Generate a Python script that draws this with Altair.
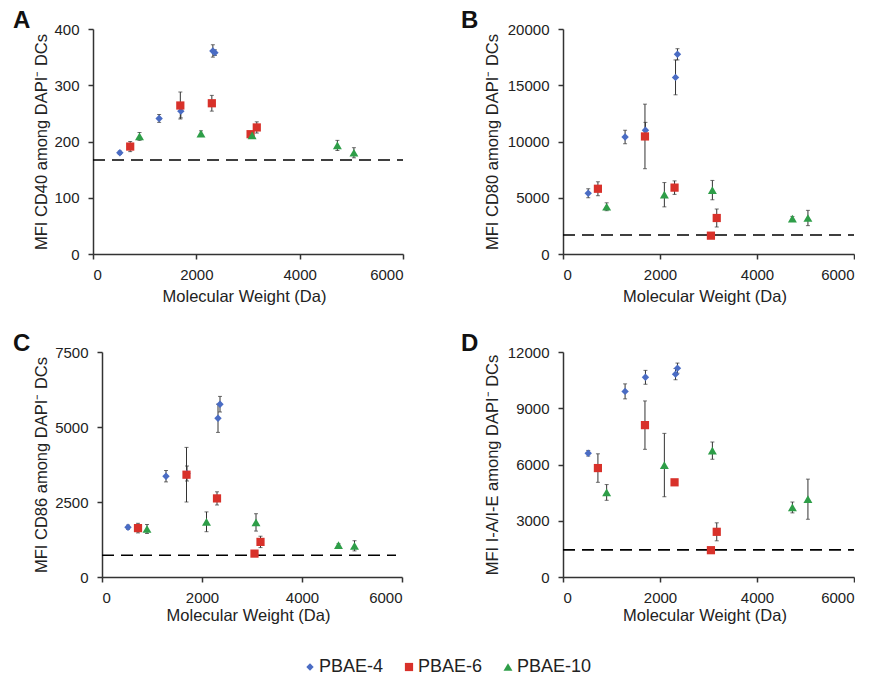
import altair as alt
import pandas as pd

series = ["PBAE-4", "PBAE-6", "PBAE-10"]
colors = ["#4A6CC4", "#D8312A", "#2E9E48"]
shapes = ["diamond", "square", "triangle-up"]

# molecular weights (Da)
mw4 = [520, 1280, 1700, 2320, 2360]
mw6 = [720, 1690, 2300, 3050, 3170]
mw10 = [900, 2090, 3080, 4730, 5050]

# Panel A: CD40
cd40_4 = [180, 241, 254, 361, 358]
cd40_4e = [3, 7, 12, 11, 5]
cd40_6 = [191, 264, 268, 213, 225]
cd40_6e = [9, 24, 14, 4, 10]
cd40_10 = [209, 214, 211, 193, 180]
cd40_10e = [7, 5, 5, 9, 9]
cd40_base = 167

# Panel B: CD80
cd80_4 = [5400, 10400, 11000, 15700, 17750]
cd80_4e = [400, 600, 700, 1550, 500]
cd80_6 = [5800, 10450, 5900, 1630, 3200]
cd80_6e = [620, 2870, 600, 100, 800]
cd80_10 = [4200, 5270, 5680, 3140, 3200]
cd80_10e = [350, 1080, 860, 200, 680]
cd80_base = 1690

# Panel C: CD86
cd86_4 = [1660, 3360, 3450, 5290, 5760]
cd86_4e = [70, 190, 250, 470, 260]
cd86_6 = [1630, 3410, 2620, 780, 1170]
cd86_6e = [160, 910, 220, 50, 190]
cd86_10 = [1600, 1840, 1820, 1060, 1040]
cd86_10e = [150, 330, 290, 50, 170]
cd86_base = 724

# Panel D: I-A/I-E
iaie_4 = [6600, 9900, 10650, 10820, 11140]
iaie_4e = [150, 400, 370, 300, 270]
iaie_6 = [5810, 8100, 5050, 1430, 2410]
iaie_6e = [760, 1290, 60, 50, 480]
iaie_10 = [4510, 5970, 6740, 3710, 4150]
iaie_10e = [420, 1690, 460, 290, 1070]
iaie_base = 1444

FONT = "Liberation Sans"


def make_df(v4, e4, v6, e6, v10, e10):
    rows = []
    for name, xs, vs, es in [("PBAE-4", mw4, v4, e4), ("PBAE-6", mw6, v6, e6), ("PBAE-10", mw10, v10, e10)]:
        for x, v, e in zip(xs, vs, es):
            rows.append({"mw": x, "mfi": v, "lo": v - e, "hi": v + e, "series": name})
    return pd.DataFrame(rows)


def panel(df, base, base_end, ymax, ystep, ytitle, letter, width, xshift, ytx, letter_dx, xty):
    xsc = alt.Scale(domain=[0, 6000], nice=False, zero=True, range=[xshift, width])
    ysc = alt.Scale(domain=[0, ymax], nice=False)
    xax = alt.Axis(values=[0, 2000, 4000, 6000], title="Molecular Weight (Da)", format="d",
                   titleY=xty, titleX=xshift + (width - xshift) / 2 - 4, titleBaseline="alphabetic",
                   titleAlign="center")
    yax = alt.Axis(values=list(range(0, ymax + 1, ystep)), title=ytitle, format="d",
                   offset=-xshift, titleX=ytx, titleY=112.5, titleAngle=270,
                   titleBaseline="alphabetic", titleAlign="center")
    b = alt.Chart(df)
    rule = alt.Chart(pd.DataFrame({"base": [base], "x0": [0], "x1": [base_end]})).mark_rule(
        strokeDash=[12, 7], color="black", strokeWidth=1.6
    ).encode(x=alt.X("x0:Q", scale=xsc, axis=xax), x2="x1:Q",
             y=alt.Y("base:Q", scale=ysc, axis=yax))
    err = b.mark_errorbar(ticks={"size": 4}, color="#333333", thickness=1).encode(
        x=alt.X("mw:Q", scale=xsc, axis=xax), y=alt.Y("lo:Q", scale=ysc, axis=yax), y2="hi:Q"
    )
    pts = b.mark_point(filled=True, opacity=1).encode(
        x=alt.X("mw:Q", scale=xsc, axis=xax),
        y=alt.Y("mfi:Q", scale=ysc, axis=yax),
        color=alt.Color("series:N", scale=alt.Scale(domain=series, range=colors),
                        legend=alt.Legend(title=None, orient="none", direction="horizontal",
                                          legendX=208, legendY=629, symbolSize=64,
                                          labelFontSize=18, labelOffset=0, columnPadding=16,
                                          labelFont=FONT, labelColor="#222222")),
        shape=alt.Shape("series:N", scale=alt.Scale(domain=series, range=shapes)),
        size=alt.Size("series:N", scale=alt.Scale(domain=series, range=[55, 80, 55]), legend=None),
    )
    return alt.layer(rule, err, pts).properties(
        width=width, height=225,
        title=alt.TitleParams(letter, anchor="start", frame="group", dx=letter_dx, dy=29.5, offset=0,
                              baseline="alphabetic", fontSize=24, fontWeight="bold", font=FONT,
                              color="#111111"),
    )


A = panel(make_df(cd40_4, cd40_4e, cd40_6, cd40_6e, cd40_10, cd40_10e), cd40_base, 6000, 400, 100,
          "MFI CD40 among DAPI⁻ DCs", "A", 310, 0, -47, -80, 47)
B = panel(make_df(cd80_4, cd80_4e, cd80_6, cd80_6e, cd80_10, cd80_10e), cd80_base, 6000, 20000, 5000,
          "MFI CD80 among DAPI⁻ DCs", "B", 291, 0, -66, -102, 47)
C = panel(make_df(cd86_4, cd86_4e, cd86_6, cd86_6e, cd86_10, cd86_10e), cd86_base, 5880, 7500, 2500,
          "MFI CD86 among DAPI⁻ DCs", "C", 309, 9, -56, -80, 43)
D = panel(make_df(iaie_4, iaie_4e, iaie_6, iaie_6e, iaie_10, iaie_10e), iaie_base, 6000, 12000, 3000,
          "MFI I-A/I-E among DAPI⁻ DCs", "D", 291, 0, -66, -102, 43)

chart = alt.concat(A, B, C, D, columns=2, spacing={"row": 98, "column": 160}, bounds="flush").properties(
    padding={"left": 5, "top": 0, "right": 0, "bottom": 0}
).configure_view(stroke=None).configure_axis(
    grid=False, domainColor="#333333", domainWidth=1.5, tickColor="#333333", tickWidth=1.5,
    tickSize=5, labelFont=FONT, labelFontSize=15, labelColor="#222222",
    titleFont=FONT, titleFontSize=16.5, titleFontWeight="normal", titleColor="#222222",
).configure_axisY(labelPadding=9).configure_axisX(labelPadding=8)

chart.save("out.html", embed_options={"renderer": "svg", "actions": False})
